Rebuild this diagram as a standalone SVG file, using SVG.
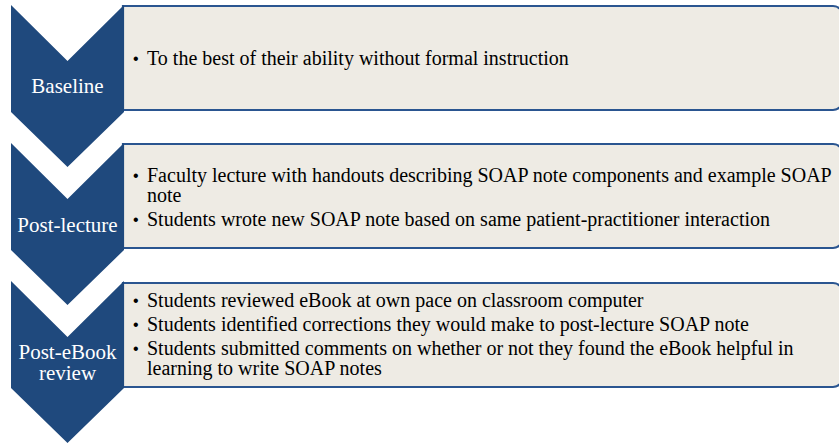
<svg xmlns="http://www.w3.org/2000/svg" width="839" height="443" viewBox="0 0 839 443">
  <style>
    .panel { fill: #EEEBE4; stroke: #2A5590; stroke-width: 2.2; }
    .chevron { fill: #1F497D; }
    .label { font-family: "Liberation Serif", "Times New Roman", serif; font-size: 21px; fill: #FFFFFF; text-anchor: middle; }
    .item { font-family: "Liberation Serif", "Times New Roman", serif; font-size: 20px; fill: #000000; }
    .bullet { font-family: "Liberation Sans", Arial, sans-serif; font-size: 16px; fill: #000000; }
  </style>

  <!-- Step 1 -->
  <g id="baseline">
    <path class="panel" d="M123,6 H833 A10,10 0 0 1 843,16 V100 A10,10 0 0 1 833,110 H123 Z"/>
    <polygon class="chevron" points="11,5 67.5,61 124,5 124,112 67.5,167 11,112"/>
    <text class="label" x="67.5" y="93">Baseline</text>
    <text class="bullet" x="133" y="64">•</text>
    <text class="item" x="147" y="65">To the best of their ability without formal instruction</text>
  </g>

  <!-- Step 2 -->
  <g id="post-lecture">
    <path class="panel" d="M123,144 H833 A10,10 0 0 1 843,154 V238 A10,10 0 0 1 833,248 H123 Z"/>
    <polygon class="chevron" points="11,143 67.5,199 124,143 124,250 67.5,305 11,250"/>
    <text class="label" x="67.5" y="232">Post-lecture</text>
    <text class="bullet" x="133" y="181">•</text>
    <text class="item" x="147" y="182">Faculty lecture with handouts describing SOAP note components and example SOAP</text>
    <text class="item" x="147" y="202">note</text>
    <text class="bullet" x="133" y="225">•</text>
    <text class="item" x="147" y="226">Students wrote new SOAP note based on same patient-practitioner interaction</text>
  </g>

  <!-- Step 3 -->
  <g id="post-ebook-review">
    <path class="panel" d="M123,283 H833 A10,10 0 0 1 843,293 V377 A10,10 0 0 1 833,387 H123 Z"/>
    <polygon class="chevron" points="11,281 67.5,337 124,281 124,388 67.5,443 11,388"/>
    <text class="label" x="67.5" y="359">Post-eBook</text>
    <text class="label" x="67.5" y="380">review</text>
    <text class="bullet" x="133" y="306">•</text>
    <text class="item" x="147" y="307">Students reviewed eBook at own pace on classroom computer</text>
    <text class="bullet" x="133" y="330">•</text>
    <text class="item" x="147" y="331">Students identified corrections they would make to post-lecture SOAP note</text>
    <text class="bullet" x="133" y="354">•</text>
    <text class="item" x="147" y="355">Students submitted comments on whether or not they found the eBook helpful in</text>
    <text class="item" x="147" y="375">learning to write SOAP notes</text>
  </g>

  <!-- no connectors: the steps are stacked chevrons -->
  <g id="connectors"/>
</svg>
